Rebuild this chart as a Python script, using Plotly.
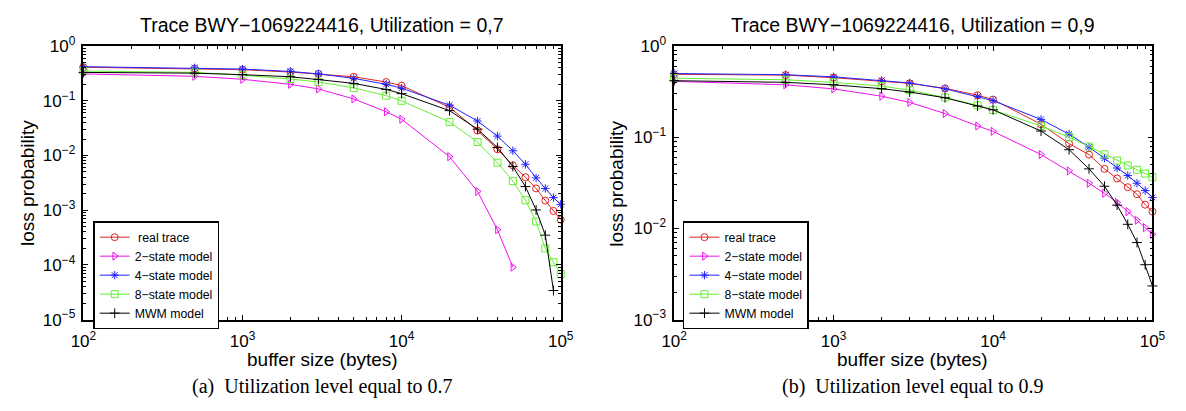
import plotly.graph_objects as go

W, H = 1186, 411

# ---------------- data ----------------
buffer_sizes = [100, 500, 1000, 2000, 3000, 5000, 8000, 10000, 20000, 30000,
                40000, 50000, 60000, 70000, 80000, 90000, 100000]

# Utilization 0.7
u07_real = [0.41, 0.39, 0.37, 0.335, 0.31, 0.275, 0.22, 0.189, 0.076, 0.0286,
            0.013, 0.0066, 0.004, 0.0025, 0.0015, 0.00097, 0.00067]
u07_2state = [0.31, 0.28, 0.247, 0.20, 0.165, 0.108, 0.063, 0.046, 0.0095, 0.0022,
              0.00044, 0.000091]
u07_4state = [0.42, 0.40, 0.38, 0.344, 0.31, 0.257, 0.20, 0.17, 0.083, 0.0426,
              0.0226, 0.0122, 0.0069, 0.0039, 0.0025, 0.0017, 0.00128]
u07_8state = [0.35, 0.33, 0.294, 0.25, 0.22, 0.172, 0.124, 0.1, 0.041, 0.0176,
              0.0074, 0.0034, 0.00152, 0.00062, 0.0002, 0.000112, 0.000068]
u07_mwm = [0.33, 0.32, 0.30, 0.275, 0.244, 0.208, 0.161, 0.135, 0.066, 0.0303,
           0.014, 0.0063, 0.0027, 0.00101, 0.00035, 0.000034]

# Utilization 0.9
u09_real = [0.49, 0.48, 0.45, 0.41, 0.39, 0.344, 0.289, 0.259, 0.139, 0.085,
            0.0645, 0.045, 0.0353, 0.0283, 0.0237, 0.0182, 0.0153]
u09_2state = [0.41, 0.376, 0.339, 0.282, 0.241, 0.182, 0.133, 0.116, 0.0646, 0.0427,
              0.0313, 0.0243, 0.0193, 0.0153, 0.0123, 0.0102, 0.0086]
u09_4state = [0.50, 0.485, 0.46, 0.42, 0.394, 0.34, 0.28, 0.252, 0.157, 0.108,
              0.078, 0.059, 0.046, 0.038, 0.0313, 0.026, 0.0219]
u09_8state = [0.444, 0.427, 0.40, 0.364, 0.328, 0.273, 0.224, 0.199, 0.133, 0.1,
              0.079, 0.065, 0.0556, 0.049, 0.044, 0.040, 0.0365]
u09_mwm = [0.417, 0.40, 0.376, 0.341, 0.313, 0.271, 0.22, 0.2, 0.117, 0.073,
           0.045, 0.029, 0.018, 0.0111, 0.007, 0.004, 0.00234]

series_names_left = [" real trace", "2\u2212state model", "4\u2212state model",
                     "8\u2212state model", "MWM model"]
series_names_right = ["real trace", "2\u2212state model", "4\u2212state model",
                      "8\u2212state model", "MWM model"]

x_tickvals = [1e2, 1e3, 1e4, 1e5]
x_ticktext = ["10<sup>2</sup>", "10<sup>3</sup>", "10<sup>4</sup>", "10<sup>5</sup>"]
yl_tickvals = [1e0, 1e-1, 1e-2, 1e-3, 1e-4, 1e-5]
yl_ticktext = ["10<sup>0</sup>", "10<sup>\u22121</sup>", "10<sup>\u22122</sup>",
               "10<sup>\u22123</sup>", "10<sup>\u22124</sup>", "10<sup>\u22125</sup>"]
yr_tickvals = [1e0, 1e-1, 1e-2, 1e-3]
yr_ticktext = ["10<sup>0</sup>", "10<sup>\u22121</sup>", "10<sup>\u22122</sup>",
               "10<sup>\u22123</sup>"]

titles = ["Trace BWY\u22121069224416, Utilization = 0,7",
          "Trace BWY\u22121069224416, Utilization = 0,9"]
captions = ["(a)  Utilization level equal to 0.7", "(b)  Utilization level equal to 0.9"]
x_label = "buffer size (bytes)"
y_label = "loss probability"

# ---------------- style ----------------
styles = [
    dict(color="#e02424", symbol="circle-open"),
    dict(color="#ee11ee", symbol="triangle-right-open"),
    dict(color="#2222ff", symbol="asterisk-open"),
    dict(color="#66ee33", symbol="square-open"),
    dict(color="#000000", symbol="cross-thin-open"),
]

SANS = "Liberation Sans, Arial, sans-serif"
SERIF = "Liberation Serif, DejaVu Serif, serif"


def px_x(p):
    return p / W


def px_y(p):
    return 1 - p / H


fig = go.Figure()

left_sets = [u07_real, u07_2state, u07_4state, u07_8state, u07_mwm]
right_sets = [u09_real, u09_2state, u09_4state, u09_8state, u09_mwm]

for vals, name, st in zip(left_sets, series_names_left, styles):
    fig.add_trace(go.Scatter(
        x=buffer_sizes[:len(vals)], y=vals, name=name, mode="lines+markers",
        line=dict(color=st["color"], width=1),
        marker=dict(symbol=st["symbol"], size=7, color=st["color"],
                    line=dict(color=st["color"], width=1)),
        xaxis="x", yaxis="y", legend="legend", cliponaxis=False))

for vals, name, st in zip(right_sets, series_names_right, styles):
    fig.add_trace(go.Scatter(
        x=buffer_sizes[:len(vals)], y=vals, name=name, mode="lines+markers",
        line=dict(color=st["color"], width=1),
        marker=dict(symbol=st["symbol"], size=7, color=st["color"],
                    line=dict(color=st["color"], width=1)),
        xaxis="x2", yaxis="y2", legend="legend2", cliponaxis=False))


def minor_vals(lo, hi):
    out = []
    for e in range(lo, hi):
        for m in range(2, 10):
            out.append(m * 10.0 ** e)
    return out


def axis_common(tickvals, ticktext, rng, minor, standoff):
    return dict(
        type="log", range=rng, tickvals=tickvals, ticktext=ticktext,
        ticks="inside", ticklen=5, tickwidth=1, tickcolor="black",
        showline=True, linecolor="black", linewidth=1.5, mirror="allticks",
        showgrid=False, zeroline=False, ticklabelstandoff=standoff,
        tickfont=dict(family=SANS, size=17, color="black"),
        minor=dict(ticks="inside", ticklen=3, tickwidth=1, tickcolor="black",
                   tickvals=minor, showgrid=False),
    )


ytop, ybot = 36, 325
legend_common = dict(xanchor="left", yanchor="top",
                     bgcolor="white", bordercolor="black", borderwidth=1.5,
                     font=dict(family=SANS, size=12.3, color="black"),
                     tracegroupgap=0, itemwidth=30)
fig.update_layout(
    width=W, height=H,
    margin=dict(l=0, r=0, t=0, b=0),
    paper_bgcolor="white", plot_bgcolor="white",
    xaxis=dict(domain=[px_x(72), px_x(560)], anchor="y",
               **axis_common(x_tickvals, x_ticktext, [2, 5], minor_vals(2, 5), 5)),
    yaxis=dict(domain=[px_y(ybot), px_y(ytop)], anchor="x",
               **axis_common(yl_tickvals, yl_ticktext, [-5, 0], minor_vals(-5, 0), 3)),
    xaxis2=dict(domain=[px_x(676), px_x(1165)], anchor="y2",
                **axis_common(x_tickvals, x_ticktext, [2, 5], minor_vals(2, 5), 5)),
    yaxis2=dict(domain=[px_y(ybot), px_y(ytop)], anchor="x2",
                **axis_common(yr_tickvals, yr_ticktext, [-3, 0], minor_vals(-3, 0), 3)),
    legend=dict(x=px_x(82), y=px_y(221), **legend_common),
    legend2=dict(x=px_x(685), y=px_y(221), **legend_common),
    showlegend=True,
)

annots = []
for cx, t in zip([316, 920], titles):
    annots.append(dict(x=px_x(cx), y=px_y(14), text=t, showarrow=False,
                       xref="paper", yref="paper", xanchor="center", yanchor="middle",
                       font=dict(family=SANS, size=19.5, color="black")))
for cx in [316, 920]:
    annots.append(dict(x=px_x(cx), y=px_y(367), text=x_label, showarrow=False,
                       xref="paper", yref="paper", xanchor="center", yanchor="middle",
                       font=dict(family=SANS, size=19, color="black")))
for cx in [15, 617]:
    annots.append(dict(x=px_x(cx), y=px_y(181), text=y_label, showarrow=False,
                       textangle=-90,
                       xref="paper", yref="paper", xanchor="center", yanchor="middle",
                       font=dict(family=SANS, size=19, color="black")))
for cx, c in zip([316, 920], captions):
    annots.append(dict(x=px_x(cx), y=px_y(396), text=c, showarrow=False,
                       xref="paper", yref="paper", xanchor="center", yanchor="middle",
                       font=dict(family=SERIF, size=20, color="black")))
fig.update_layout(annotations=annots)

fig.write_html("out.html")
